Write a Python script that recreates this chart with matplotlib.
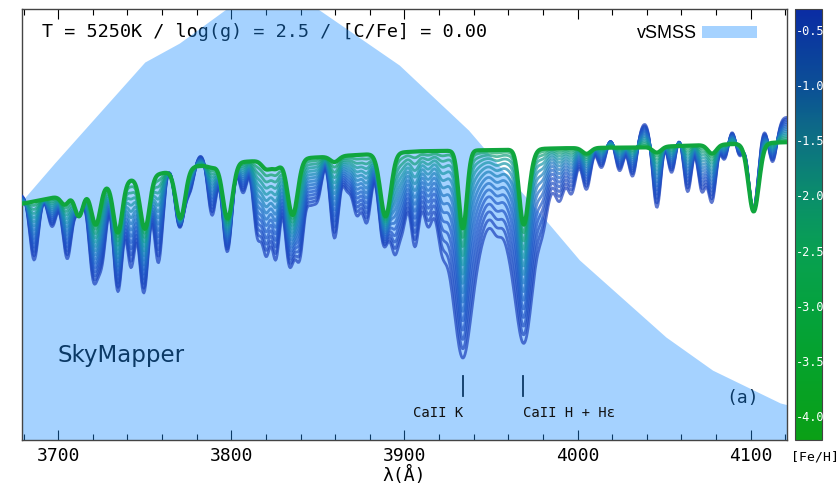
import numpy as np
import matplotlib
matplotlib.use("Agg")
import matplotlib.pyplot as plt
from matplotlib.colors import LinearSegmentedColormap, Normalize
from matplotlib.cm import ScalarMappable
from matplotlib.patches import Patch

# ---------------- data ----------------
# vSMSS filter transmission (scaled to the plot's y range)
filter_wl = [3678, 3698, 3750, 3770, 3797, 3825, 3850, 3897, 3937, 3978, 4001, 4051, 4078, 4117, 4122]
filter_tr = [0.550, 0.643, 0.877, 0.921, 1.000, 1.044, 1.000, 0.870, 0.719, 0.527, 0.418, 0.239, 0.162, 0.086, 0.081]

# metallicity grid of the synthetic spectra
feh_values = [-0.5, -0.75, -1.0, -1.25, -1.5, -1.75, -2.0, -2.25, -2.5, -2.75, -3.0, -3.25, -3.5, -3.75, -4.0]

# pseudo-continuum of the most metal-poor ([Fe/H]=-4) and metal-rich ([Fe/H]=-0.5) spectra
cont_poor_wl = [3679, 3699, 3727, 3755, 3780, 3805, 3863, 3909, 3955, 3990, 4036, 4071, 4121]
cont_poor = [0.548, 0.564, 0.591, 0.615, 0.635, 0.645, 0.659, 0.670, 0.673, 0.677, 0.679, 0.684, 0.691]
cont_rich_wl = [3679, 3699, 3729, 3755, 3780, 3805, 3863, 3909, 3955, 3990, 4013, 4039, 4071, 4089, 4121]
cont_rich = [0.570, 0.578, 0.597, 0.632, 0.668, 0.680, 0.680, 0.680, 0.684, 0.702, 0.725, 0.750, 0.745, 0.760, 0.752]

# Balmer lines (same depth for all metallicities)
balmer_wl = [3703.9, 3712.0, 3721.9, 3734.4, 3750.2, 3770.6, 3797.9, 3835.4, 3889.1, 3970.1, 4101.7]
balmer_depth = [0.04, 0.10, 0.135, 0.17, 0.175, 0.18, 0.20, 0.20, 0.22, 0.12, 0.23]
balmer_sigma = [2.3, 2.4, 2.5, 2.5, 2.6, 2.7, 2.8, 2.9, 3.0, 3.0, 3.0]

# metal lines: centre, depth at [Fe/H]=-0.5, depth at [Fe/H]=-4.0
metal_wl = [3686.1, 3696.5, 3705.4, 3720.0, 3725.4, 3734.6, 3742.1, 3749.2, 3757.9, 3769.2,
            3776.2, 3788.9, 3797.5, 3806.8, 3815.0, 3820.2, 3825.8, 3833.0, 3839.6, 3845.4,
            3850.0, 3859.6, 3866.8, 3872.5, 3878.3, 3887.0, 3894.5, 3899.0, 3906.0, 3913.5,
            3921.6, 3953.3, 3979.9, 3989.7, 3996.6, 4005.2, 4013.9, 4024.3, 4031.8, 4045.8,
            4054.3, 4063.6, 4071.7, 4077.7, 4084.9, 4093.5, 4101.0, 4112.6]
metal_depth_rich = [0.27, 0.14, 0.25, 0.28, 0.26, 0.31, 0.34, 0.34, 0.35, 0.08,
                    0.11, 0.22, 0.19, 0.15, 0.28, 0.33, 0.36, 0.28, 0.32, 0.15,
                    0.15, 0.30, 0.12, 0.20, 0.23, 0.14, 0.28, 0.20, 0.28, 0.16,
                    0.14, 0.06, 0.08, 0.11, 0.13, 0.15, 0.10, 0.13, 0.16, 0.27,
                    0.16, 0.22, 0.21, 0.25, 0.13, 0.12, 0.08, 0.14]
metal_depth_poor = [0.0, 0.0, 0.0, 0.02, 0.0, 0.03, 0.0, 0.03, 0.0, 0.0,
                    0.0, 0.01, 0.0, 0.0, 0.0, 0.03, 0.03, 0.0, 0.0, 0.0,
                    0.0, 0.02, 0.0, 0.0, 0.0, 0.0, 0.0, 0.0, 0.0, 0.0,
                    0.0, 0.0, 0.0, 0.0, 0.0, 0.02, 0.0, 0.0, 0.0, 0.02,
                    0.0, 0.0, 0.0, 0.03, 0.0, 0.0, 0.0, 0.0]

# Ca II K and H
ca_wl = [3933.7, 3968.5]
ca_depth_rich = [0.71, 0.62]
ca_depth_poor = [0.27, 0.17]

tick_values = [-0.5, -1.0, -1.5, -2.0, -2.5, -3.0, -3.5, -4.0]
tick_labels = ["-0.5", "-1.0", "-1.5", "-2.0", "-2.5", "-3.0", "-3.5", "-4.0"]
x_ticks = [3700, 3800, 3900, 4000, 4100]

# ---------------- figure ----------------
MONO = "DejaVu Sans Mono"
fig = plt.figure(figsize=(8.4, 4.87), dpi=100)
ax = fig.add_axes([0.026, 0.0965, 0.911, 0.885])

cmap = LinearSegmentedColormap.from_list(
    "fehmap",
    [(0.0, "#0aa016"), (0.18, "#05a22c"), (0.31, "#05a23e"), (0.44, "#08a052"),
     (0.56, "#0a8f6a"), (0.69, "#0d7282"), (0.82, "#0c5096"), (1.0, "#0a2ca4")])
norm = Normalize(vmin=-4.2, vmax=-0.3)

# spectra colours: brighter, bluer version of the colorbar
line_cmap = LinearSegmentedColormap.from_list(
    "fehlines",
    [(0.0, "#10a81e"), (0.12, "#10a46a"), (0.3, "#1898a8"), (0.5, "#2078c4"),
     (0.7, "#2058c8"), (1.0, "#1a3ab8")])

wl = np.arange(3679.0, 4122.0, 0.5)
METAL_SIGMA = 2.5
CA_SIGMA_POOR = 2.3
CA_GAMMA_RICH = 9.0


def gauss(c, s):
    return np.exp(-0.5 * ((wl - c) / s) ** 2)


def lorentz(c, g):
    return 1.0 / (1.0 + ((wl - c) / g) ** 2)


fmin, fmax = min(feh_values), max(feh_values)
for feh in feh_values:
    t = (feh - fmin) / (fmax - fmin)
    cont = (1 - t) * np.interp(wl, cont_poor_wl, cont_poor) + t * np.interp(wl, cont_rich_wl, cont_rich)
    trans = np.ones_like(wl)
    for c, d, s in zip(balmer_wl, balmer_depth, balmer_sigma):
        trans *= 1 - d * gauss(c, s)
    for c, dr, dp in zip(metal_wl, metal_depth_rich, metal_depth_poor):
        d = dp + (dr - dp) * t
        trans *= 1 - d * gauss(c, METAL_SIGMA)
    for c, dr, dp in zip(ca_wl, ca_depth_rich, ca_depth_poor):
        d = dp + (dr - dp) * t
        prof = (1 - t) * gauss(c, CA_SIGMA_POOR) + t * lorentz(c, CA_GAMMA_RICH)
        trans *= 1 - d * prof
    flux = cont * trans
    if feh == fmin:
        ax.plot(wl, flux, color=line_cmap(norm(feh)), lw=3.0, zorder=4, solid_joinstyle="round")
    else:
        ax.plot(wl, flux, color=line_cmap(norm(feh)), lw=2.0, alpha=0.7, zorder=3)

# filter (semi-transparent, above the text)
fill_color = "dodgerblue"
ax.fill_between(filter_wl, 0, filter_tr, color=fill_color, alpha=0.4, lw=0, zorder=2)

ax.set_xlim(3679, 4121)
ax.set_ylim(0, 1)
ax.set_yticks([])
ax.set_xticks(x_ticks)
ax.set_xticks(np.arange(3680, 4121, 20), minor=True)
ax.tick_params(axis="x", which="both", direction="in", top=True, bottom=True,
               labelsize=13, pad=5)
ax.tick_params(axis="x", which="major", length=7, width=0.8)
ax.tick_params(axis="x", which="minor", length=4, width=0.8)
for lab in ax.get_xticklabels():
    lab.set_family(MONO)
for sp in ax.spines.values():
    sp.set_color("#444444")
    sp.set_linewidth(1.0)
ax.set_xlabel("λ(Å)", family=MONO, fontsize=13, labelpad=1)

# texts under the filter
ax.text(0.026, 0.947, "T = 5250K / log(g) = 2.5 / [C/Fe] = 0.00", transform=ax.transAxes,
        family=MONO, fontsize=13.3, color="black", ha="left", va="center", zorder=1)
ax.text(0.046, 0.197, "SkyMapper", transform=ax.transAxes, family="DejaVu Sans",
        fontsize=16.5, color="black", ha="left", va="center", zorder=1)
ax.text(0.942, 0.097, "(a)", transform=ax.transAxes, family=MONO, fontsize=13,
        color="black", ha="center", va="center", zorder=1)
for c in ca_wl:
    ax.plot([c, c], [0.102, 0.148], color="black", lw=1.3, zorder=1)
ax.text(ca_wl[0], 0.063, "CaII K", family=MONO, fontsize=10, ha="right", va="center",
        color="#111111", zorder=6)
ax.text(ca_wl[1], 0.063, "CaII H + Hε", family=MONO, fontsize=10, ha="left", va="center",
        color="#111111", zorder=6)

leg = ax.legend(handles=[Patch(facecolor=fill_color, alpha=0.4, edgecolor="none", label="vSMSS")],
                loc="upper right", bbox_to_anchor=(0.982, 1.0), frameon=False,
                markerfirst=False, handlelength=3.05, handletextpad=0.3,
                prop={"family": "Liberation Sans", "size": 13})

# colorbar
cax = fig.add_axes([0.946, 0.0965, 0.033, 0.885])
cb = fig.colorbar(ScalarMappable(norm=norm, cmap=cmap), cax=cax)
cb.set_ticks([])
cb.outline.set_edgecolor("#444444")
for v, s in zip(tick_values, tick_labels):
    cax.text(0.04, v, s, transform=cax.get_yaxis_transform(), color="white",
             family=MONO, fontsize=8.6, ha="left", va="center")
fig.text(0.970, 0.062, "[Fe/H]", family=MONO, fontsize=9.5, ha="center", va="center")

fig.savefig("out.png", dpi=100)
